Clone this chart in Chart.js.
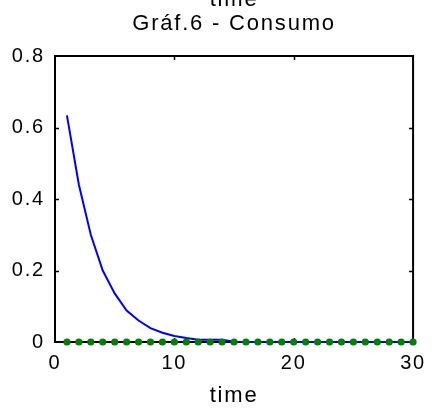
<!DOCTYPE html>
<html>
<head>
<meta charset="utf-8">
<script src="https://cdn.jsdelivr.net/npm/chart.js@4/dist/chart.umd.min.js"></script>
<style>
html,body{margin:0;padding:0;background:#fff;overflow:hidden;width:435px;height:411px}
#wrap{position:absolute;left:0;top:-20px;width:435px;height:431px}
</style>
</head>
<body>
<div id="wrap"><canvas id="c" width="435" height="431"></canvas></div>
<script>
// ---- data ----
const timeValues = [1,2,3,4,5,6,7,8,9,10,11,12,13,14,15,16,17,18,19,20,21,22,23,24,25,26,27,28,29,30];
const consumo = [0.634,0.440,0.300,0.200,0.136,0.088,0.060,0.039,0.026,0.017,0.011,0.006,0.006,0.006,0.001,0,0,0,0,0,0,0,0,0,0,0,0,0,0,0];
const steadyState = [0,0,0,0,0,0,0,0,0,0,0,0,0,0,0,0,0,0,0,0,0,0,0,0,0,0,0,0,0,0];
const titleLines = ['time', 'Gráf.6 - Consumo'];
const xAxisLabel = 'time';
const xTicks = [0, 10, 20, 30];
const yTicks = [0, 0.2, 0.4, 0.6, 0.8];

const FONT = "'Liberation Sans', Arial, sans-serif";
const SPACING = '1.8px';

const spacingPlugin = {
  id: 'spacing',
  beforeLayout(chart){ chart.ctx.letterSpacing = SPACING; },
  beforeDraw(chart){ chart.ctx.letterSpacing = SPACING; }
};

const framePlugin = {
  id: 'frame',
  beforeDatasetsDraw(chart){
    const {ctx, chartArea:a, scales:{x, y}} = chart;
    ctx.save();
    ctx.strokeStyle = '#000';
    ctx.lineWidth = 2;
    ctx.strokeRect(a.left, a.top, a.right - a.left, a.bottom - a.top);
    ctx.lineWidth = 1.5;
    const L = 4;
    ctx.beginPath();
    xTicks.forEach(v => {
      if (v === xTicks[0] || v === xTicks[xTicks.length-1]) return;
      const px = Math.round(x.getPixelForValue(v)) + 0.5;
      ctx.moveTo(px, a.bottom); ctx.lineTo(px, a.bottom - L);
      ctx.moveTo(px, a.top); ctx.lineTo(px, a.top + L);
    });
    yTicks.forEach(v => {
      if (v === yTicks[0] || v === yTicks[yTicks.length-1]) return;
      const py = Math.round(y.getPixelForValue(v)) + 0.5;
      ctx.moveTo(a.left, py); ctx.lineTo(a.left + L, py);
      ctx.moveTo(a.right, py); ctx.lineTo(a.right - L, py);
    });
    ctx.stroke();
    ctx.restore();
  }
};

new Chart(document.getElementById('c'), {
  type: 'line',
  data: {
    datasets: [
      {
        label: 'steady',
        data: timeValues.map((t, i) => ({x: t, y: steadyState[i]})),
        showLine: false,
        pointRadius: 3.6,
        pointBackgroundColor: '#008000',
        pointBorderWidth: 0,
        clip: false,
        order: 0
      },
      {
        label: 'consumo',
        data: timeValues.map((t, i) => ({x: t, y: consumo[i]})),
        borderColor: '#0000ff',
        borderWidth: 2,
        pointRadius: 0,
        tension: 0,
        fill: false,
        clip: false,
        order: 1
      }
    ]
  },
  options: {
    responsive: false,
    animation: false,
    devicePixelRatio: 1,
    layout: { padding: { top: 0, right: 16, left: 0, bottom: 0 } },
    plugins: {
      legend: { display: false },
      tooltip: { enabled: false },
      title: { display: false }
    },
    scales: {
      xTop: {
        type: 'linear',
        position: 'top',
        min: 0, max: 30,
        afterFit(s){ s.height = 76; },
        grid: { display: false, drawTicks: false },
        border: { display: false },
        ticks: { display: false },
        title: { display: true, text: titleLines, color: '#000',
                 font: { family: FONT, size: 22, lineHeight: 24/22 }, padding: { top: 8, bottom: 0 } }
      },
      x: {
        type: 'linear',
        position: 'bottom',
        min: 0, max: 30,
        afterBuildTicks(s){ s.ticks = xTicks.map(v => ({value: v})); },
        afterFit(s){ s.height = 69; },
        grid: { display: false, drawTicks: false },
        border: { display: false },
        ticks: { color: '#000', padding: 9, maxRotation: 0, font: { family: FONT, size: 20 } },
        title: { display: true, text: xAxisLabel, color: '#000',
                 font: { family: FONT, size: 22, lineHeight: 24/22 }, padding: { top: 0, bottom: 3 } }
      },
      y: {
        type: 'linear',
        min: 0, max: 0.8,
        afterBuildTicks(s){ s.ticks = yTicks.map(v => ({value: v})); },
        afterFit(s){ s.width = 55; },
        grid: { display: false, drawTicks: false },
        border: { display: false },
        ticks: { color: '#000', padding: 10, font: { family: FONT, size: 20 } }
      }
    }
  },
  plugins: [spacingPlugin, framePlugin]
});
</script>
</body>
</html>
